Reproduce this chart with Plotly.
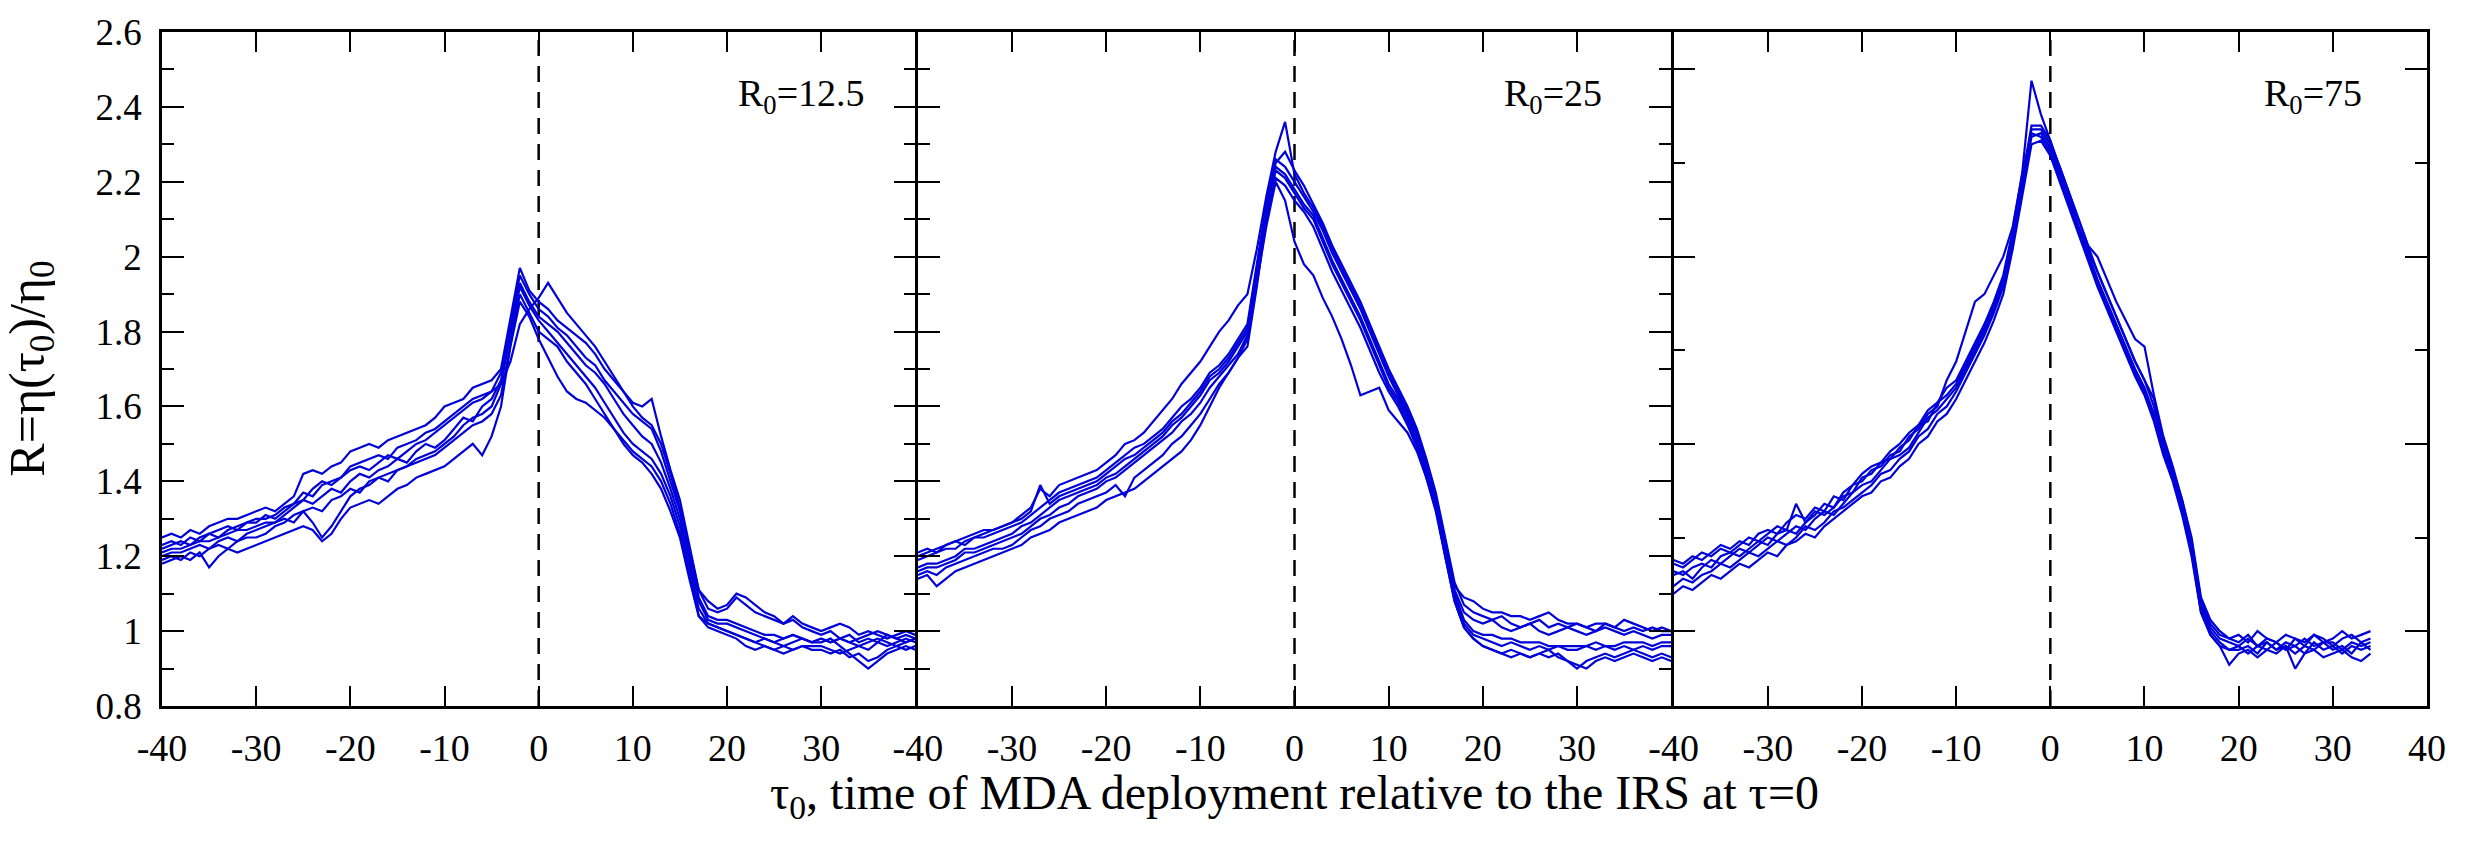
import plotly.graph_objects as go

# Time of MDA deployment relative to IRS (tau_0)
TAU_A = list(range(-40, 41))   # runs for R0 = 12.5 and R0 = 25
TAU_B = list(range(-40, 35))   # runs for R0 = 75

# Ratio R = eta(tau_0)/eta_0 for individual stochastic runs, R0 = 12.5
R0_12_5_RUNS = [
    [1.25, 1.26, 1.25, 1.27, 1.26, 1.28, 1.29, 1.30, 1.30, 1.31,
     1.32, 1.33, 1.32, 1.34, 1.36, 1.42, 1.43, 1.42, 1.44, 1.45,
     1.48, 1.49, 1.50, 1.49, 1.51, 1.52, 1.53, 1.54, 1.55, 1.57,
     1.60, 1.61, 1.62, 1.65, 1.66, 1.67, 1.70, 1.84, 1.97, 1.91,
     1.88, 1.86, 1.83, 1.81, 1.79, 1.77, 1.74, 1.70, 1.67, 1.64,
     1.61, 1.60, 1.62, 1.52, 1.43, 1.35, 1.23, 1.11, 1.06, 1.05,
     1.06, 1.09, 1.07, 1.05, 1.04, 1.03, 1.02, 1.04, 1.02, 1.01,
     1.00, 1.01, 1.02, 1.01, 0.99, 1.00, 0.99, 0.98, 0.99, 1.00, 0.99],
    [1.18, 1.19, 1.20, 1.19, 1.21, 1.17, 1.20, 1.22, 1.21, 1.22,
     1.23, 1.24, 1.25, 1.26, 1.27, 1.28, 1.27, 1.24, 1.26, 1.30,
     1.33, 1.34, 1.35, 1.34, 1.36, 1.38, 1.39, 1.41, 1.42, 1.43,
     1.44, 1.46, 1.48, 1.50, 1.47, 1.52, 1.60, 1.76, 1.88, 1.84,
     1.78, 1.73, 1.68, 1.64, 1.62, 1.61, 1.59, 1.57, 1.54, 1.51,
     1.48, 1.46, 1.44, 1.40, 1.34, 1.26, 1.15, 1.04, 1.01, 1.00,
     0.99, 0.98, 0.96, 0.95, 0.96, 0.95, 0.94, 0.95, 0.96, 0.95,
     0.95, 0.94, 0.95, 0.93, 0.94, 0.92, 0.93, 0.95, 0.96, 0.95, 0.96],
    [1.23, 1.24, 1.23, 1.25, 1.24, 1.26, 1.27, 1.28, 1.27, 1.29,
     1.30, 1.30, 1.31, 1.33, 1.34, 1.37, 1.36, 1.39, 1.40, 1.41,
     1.44, 1.45, 1.46, 1.47, 1.46, 1.49, 1.50, 1.51, 1.53, 1.54,
     1.56, 1.58, 1.60, 1.62, 1.63, 1.64, 1.69, 1.82, 1.95, 1.90,
     1.86, 1.84, 1.81, 1.79, 1.76, 1.73, 1.71, 1.67, 1.64, 1.61,
     1.58, 1.56, 1.54, 1.48, 1.40, 1.32, 1.21, 1.09, 1.04, 1.03,
     1.03, 1.02, 1.01, 1.00, 0.99, 0.99, 0.98, 0.99, 0.98, 0.97,
     0.98, 0.97, 0.98, 0.97, 0.96, 0.97, 0.98, 0.97, 0.96, 0.97, 0.98],
    [1.20, 1.21, 1.21, 1.22, 1.23, 1.22, 1.24, 1.25, 1.24, 1.26,
     1.27, 1.28, 1.29, 1.30, 1.29, 1.32, 1.29, 1.25, 1.28, 1.32,
     1.36, 1.38, 1.39, 1.41, 1.42, 1.43, 1.44, 1.46, 1.47, 1.48,
     1.50, 1.52, 1.55, 1.57, 1.58, 1.60, 1.66, 1.79, 1.92, 1.87,
     1.83, 1.80, 1.77, 1.74, 1.71, 1.68, 1.65, 1.61, 1.57, 1.53,
     1.50, 1.48, 1.46, 1.42, 1.36, 1.28, 1.17, 1.06, 1.02, 1.01,
     1.00, 0.99, 0.98, 0.97, 0.96, 0.95, 0.96, 0.95, 0.96, 0.96,
     0.96, 0.95, 0.94, 0.95, 0.96, 0.95, 0.97, 0.96, 0.97, 0.98, 0.97],
    [1.22, 1.23, 1.24, 1.23, 1.25, 1.26, 1.25, 1.27, 1.28, 1.29,
     1.29, 1.31, 1.30, 1.32, 1.34, 1.35, 1.38, 1.40, 1.39, 1.41,
     1.43, 1.44, 1.43, 1.45, 1.47, 1.46, 1.48, 1.50, 1.51, 1.53,
     1.55, 1.57, 1.59, 1.61, 1.62, 1.64, 1.66, 1.72, 1.82, 1.86,
     1.89, 1.93, 1.89, 1.85, 1.82, 1.79, 1.76, 1.72, 1.68, 1.64,
     1.60, 1.57, 1.55, 1.50, 1.42, 1.33, 1.22, 1.11, 1.08, 1.06,
     1.07, 1.10, 1.09, 1.07, 1.05, 1.04, 1.02, 1.03, 1.01, 1.00,
     0.99, 1.00, 0.98, 0.97, 0.98, 0.99, 1.00, 0.99, 0.98, 0.97, 0.98],
    [1.19, 1.20, 1.19, 1.21, 1.20, 1.22, 1.23, 1.22, 1.24, 1.25,
     1.25, 1.26, 1.28, 1.29, 1.31, 1.32, 1.33, 1.32, 1.35, 1.36,
     1.38, 1.37, 1.40, 1.41, 1.40, 1.43, 1.44, 1.45, 1.46, 1.47,
     1.49, 1.51, 1.53, 1.55, 1.56, 1.58, 1.63, 1.77, 1.90, 1.85,
     1.80, 1.78, 1.76, 1.72, 1.69, 1.66, 1.62, 1.58, 1.54, 1.50,
     1.47, 1.45, 1.42, 1.38, 1.32, 1.25, 1.14, 1.04, 1.02, 1.01,
     1.00, 0.99, 0.98, 0.97, 0.98, 0.97, 0.96, 0.97, 0.98, 0.97,
     0.97, 0.98, 0.96, 0.94, 0.92, 0.90, 0.92, 0.94, 0.95, 0.96, 0.95],
    [1.21, 1.22, 1.22, 1.23, 1.24, 1.24, 1.25, 1.26, 1.27, 1.27,
     1.28, 1.29, 1.29, 1.31, 1.33, 1.35, 1.34, 1.36, 1.38, 1.37,
     1.40, 1.42, 1.41, 1.43, 1.44, 1.46, 1.45, 1.48, 1.50, 1.49,
     1.51, 1.54, 1.57, 1.56, 1.60, 1.62, 1.67, 1.80, 1.93, 1.88,
     1.84, 1.82, 1.80, 1.77, 1.74, 1.71, 1.69, 1.66, 1.62, 1.58,
     1.55, 1.52, 1.50, 1.45, 1.38, 1.30, 1.19, 1.08, 1.03, 1.02,
     1.02, 1.01, 1.00, 0.99, 0.98, 0.97, 0.98, 0.99, 0.98, 0.97,
     0.98, 0.97, 0.98, 0.99, 0.97, 0.98, 0.97, 0.99, 0.98, 0.99, 0.98],
]

# R0 = 25
R0_25_RUNS = [
    [1.20, 1.21, 1.22, 1.23, 1.24, 1.25, 1.26, 1.27, 1.27, 1.28,
     1.29, 1.31, 1.33, 1.38, 1.36, 1.39, 1.40, 1.41, 1.42, 1.43,
     1.45, 1.47, 1.50, 1.51, 1.53, 1.56, 1.59, 1.62, 1.66, 1.69,
     1.72, 1.76, 1.80, 1.83, 1.87, 1.90, 2.02, 2.16, 2.28, 2.36,
     2.22, 2.17, 2.13, 2.08, 2.02, 1.97, 1.92, 1.87, 1.81, 1.75,
     1.69, 1.64, 1.59, 1.53, 1.45, 1.36, 1.24, 1.12, 1.09, 1.08,
     1.06, 1.05, 1.05, 1.04, 1.04, 1.03, 1.04, 1.05, 1.03, 1.02,
     1.02, 1.01, 1.02, 1.02, 1.01, 1.03, 1.02, 1.01, 1.00, 1.01, 1.00],
    [1.14, 1.15, 1.12, 1.14, 1.16, 1.17, 1.18, 1.19, 1.20, 1.21,
     1.22, 1.23, 1.25, 1.26, 1.27, 1.29, 1.30, 1.31, 1.32, 1.33,
     1.35, 1.36, 1.37, 1.38, 1.40, 1.42, 1.44, 1.46, 1.48, 1.51,
     1.55, 1.60, 1.65, 1.69, 1.73, 1.78, 1.93, 2.08, 2.20, 2.15,
     2.04, 1.98, 1.95, 1.89, 1.84, 1.78, 1.71, 1.63, 1.64, 1.65,
     1.59, 1.56, 1.53, 1.48, 1.41, 1.32, 1.20, 1.08, 1.01, 0.98,
     0.96, 0.95, 0.94, 0.93, 0.94, 0.93, 0.94, 0.93, 0.94, 0.92,
     0.91, 0.90, 0.92, 0.93, 0.92, 0.93, 0.94, 0.93, 0.92, 0.93, 0.92],
    [1.19, 1.20, 1.21, 1.22, 1.22, 1.24, 1.25, 1.25, 1.26, 1.27,
     1.28, 1.29, 1.31, 1.33, 1.35, 1.37, 1.38, 1.39, 1.40, 1.41,
     1.43, 1.45, 1.47, 1.49, 1.50, 1.52, 1.54, 1.57, 1.60, 1.62,
     1.65, 1.69, 1.71, 1.74, 1.78, 1.82, 1.98, 2.14, 2.26, 2.24,
     2.20, 2.16, 2.12, 2.07, 2.01, 1.96, 1.91, 1.86, 1.80, 1.74,
     1.68, 1.63, 1.58, 1.52, 1.44, 1.35, 1.23, 1.11, 1.05, 1.03,
     1.02, 1.03, 1.01, 1.00, 1.01, 1.02, 1.00, 0.99, 1.00, 1.01,
     1.00, 0.99, 1.00, 1.01, 1.00, 0.99, 1.00, 0.99, 0.98, 0.99, 0.99],
    [1.17, 1.18, 1.18, 1.19, 1.20, 1.22, 1.22, 1.23, 1.24, 1.25,
     1.26, 1.28, 1.29, 1.31, 1.33, 1.35, 1.36, 1.37, 1.38, 1.39,
     1.41, 1.42, 1.44, 1.46, 1.48, 1.50, 1.52, 1.55, 1.57, 1.60,
     1.63, 1.67, 1.69, 1.72, 1.76, 1.80, 1.96, 2.12, 2.24, 2.22,
     2.18, 2.14, 2.11, 2.05, 1.99, 1.94, 1.89, 1.84, 1.78, 1.72,
     1.66, 1.62, 1.57, 1.51, 1.43, 1.34, 1.22, 1.10, 1.03, 1.00,
     0.99, 0.99, 0.98, 0.98, 0.97, 0.97, 0.97, 0.96, 0.96, 0.96,
     0.96, 0.96, 0.97, 0.96, 0.96, 0.97, 0.97, 0.97, 0.96, 0.97, 0.97],
    [1.15, 1.16, 1.15, 1.17, 1.18, 1.19, 1.20, 1.21, 1.22, 1.22,
     1.23, 1.25, 1.27, 1.28, 1.30, 1.31, 1.32, 1.34, 1.35, 1.36,
     1.37, 1.39, 1.36, 1.41, 1.43, 1.45, 1.47, 1.50, 1.52, 1.55,
     1.58, 1.62, 1.66, 1.69, 1.73, 1.76, 1.92, 2.10, 2.21, 2.19,
     2.15, 2.12, 2.08, 2.02, 1.96, 1.91, 1.86, 1.81, 1.75, 1.69,
     1.64, 1.60, 1.55, 1.49, 1.41, 1.33, 1.20, 1.08, 1.01, 0.98,
     0.96, 0.95, 0.94, 0.95, 0.94, 0.93, 0.94, 0.95, 0.93, 0.92,
     0.90, 0.92, 0.93, 0.94, 0.93, 0.94, 0.95, 0.94, 0.93, 0.94, 0.93],
    [1.21, 1.22, 1.21, 1.23, 1.24, 1.23, 1.25, 1.26, 1.27, 1.28,
     1.29, 1.30, 1.32, 1.39, 1.34, 1.36, 1.37, 1.38, 1.39, 1.40,
     1.42, 1.44, 1.46, 1.47, 1.49, 1.51, 1.53, 1.56, 1.58, 1.61,
     1.64, 1.68, 1.70, 1.73, 1.77, 1.81, 1.97, 2.13, 2.25, 2.28,
     2.23, 2.19, 2.14, 2.09, 2.03, 1.98, 1.93, 1.88, 1.82, 1.76,
     1.70, 1.65, 1.60, 1.54, 1.46, 1.37, 1.25, 1.13, 1.07, 1.05,
     1.04, 1.03, 1.04, 1.02, 1.01, 1.02, 1.03, 1.01, 1.02, 1.01,
     1.02, 1.01, 1.00, 1.02, 1.01, 1.00, 1.01, 1.00, 1.01, 1.00, 1.00],
    [1.16, 1.17, 1.17, 1.18, 1.19, 1.21, 1.21, 1.22, 1.23, 1.24,
     1.25, 1.26, 1.28, 1.30, 1.31, 1.33, 1.34, 1.36, 1.37, 1.38,
     1.40, 1.41, 1.43, 1.45, 1.47, 1.49, 1.51, 1.53, 1.56, 1.58,
     1.61, 1.65, 1.68, 1.71, 1.74, 1.79, 1.95, 2.11, 2.23, 2.21,
     2.17, 2.13, 2.10, 2.04, 1.98, 1.93, 1.88, 1.83, 1.77, 1.71,
     1.65, 1.61, 1.56, 1.50, 1.42, 1.33, 1.21, 1.09, 1.02, 0.99,
     0.98, 0.97, 0.96, 0.97, 0.96, 0.95, 0.96, 0.95, 0.96, 0.95,
     0.95, 0.96, 0.95, 0.96, 0.95, 0.96, 0.95, 0.96, 0.95, 0.96, 0.96],
]

# R0 = 75
R0_75_RUNS = [
    [1.18, 1.17, 1.19, 1.21, 1.20, 1.22, 1.21, 1.23, 1.25, 1.24,
     1.26, 1.28, 1.27, 1.34, 1.29, 1.31, 1.34, 1.33, 1.37, 1.39,
     1.40, 1.43, 1.44, 1.47, 1.48, 1.52, 1.54, 1.58, 1.60, 1.67,
     1.72, 1.80, 1.88, 1.90, 1.95, 2.00, 2.08, 2.22, 2.47, 2.38,
     2.31, 2.23, 2.16, 2.08, 2.02, 1.96, 1.90, 1.84, 1.78, 1.72,
     1.67, 1.62, 1.51, 1.43, 1.35, 1.24, 1.08, 1.02, 0.99, 0.98,
     0.99, 0.97, 1.00, 0.98, 0.97, 0.99, 0.98, 0.96, 0.99, 0.97,
     0.98, 1.00, 0.98, 0.99, 1.00],
    [1.15, 1.16, 1.14, 1.17, 1.19, 1.18, 1.20, 1.22, 1.21, 1.23,
     1.25, 1.24, 1.26, 1.28, 1.27, 1.30, 1.32, 1.31, 1.34, 1.37,
     1.39, 1.40, 1.43, 1.46, 1.47, 1.49, 1.53, 1.57, 1.59, 1.62,
     1.65, 1.70, 1.75, 1.80, 1.86, 1.93, 2.05, 2.20, 2.34, 2.34,
     2.30, 2.24, 2.17, 2.10, 2.03, 2.00, 1.94, 1.88, 1.83, 1.78,
     1.76, 1.63, 1.52, 1.44, 1.35, 1.25, 1.09, 1.03, 1.00, 0.98,
     0.97, 0.99, 0.96, 0.98, 0.97, 0.95, 0.98, 0.97, 0.99, 0.98,
     0.96, 0.98, 0.99, 0.97, 0.98],
    [1.12, 1.14, 1.13, 1.15, 1.16, 1.18, 1.17, 1.19, 1.21, 1.20,
     1.22, 1.24, 1.23, 1.25, 1.28, 1.27, 1.29, 1.32, 1.33, 1.35,
     1.37, 1.39, 1.42, 1.43, 1.46, 1.48, 1.52, 1.54, 1.58, 1.60,
     1.64, 1.69, 1.74, 1.79, 1.85, 1.92, 2.04, 2.18, 2.32, 2.33,
     2.29, 2.22, 2.15, 2.08, 2.01, 1.94, 1.88, 1.82, 1.76, 1.70,
     1.65, 1.58, 1.49, 1.42, 1.33, 1.22, 1.06, 1.00, 0.97, 0.95,
     0.95, 0.96, 0.94, 0.97, 0.95, 0.96, 0.94, 0.96, 0.95, 0.97,
     0.95, 0.96, 0.94, 0.97, 0.95],
    [1.10, 1.12, 1.11, 1.13, 1.15, 1.14, 1.16, 1.18, 1.17, 1.19,
     1.21, 1.20, 1.23, 1.24, 1.26, 1.25, 1.28, 1.30, 1.32, 1.34,
     1.36, 1.37, 1.40, 1.41, 1.44, 1.46, 1.50, 1.52, 1.56, 1.58,
     1.62, 1.67, 1.72, 1.77, 1.83, 1.90, 2.02, 2.16, 2.30, 2.31,
     2.27, 2.20, 2.13, 2.06, 1.99, 1.92, 1.86, 1.80, 1.74, 1.68,
     1.63, 1.56, 1.47, 1.40, 1.31, 1.20, 1.05, 0.99, 0.96, 0.91,
     0.94, 0.95, 0.93, 0.95, 0.94, 0.96, 0.90, 0.94, 0.95, 0.93,
     0.94, 0.95, 0.93, 0.92, 0.94],
    [1.16, 1.15, 1.17, 1.18, 1.17, 1.20, 1.21, 1.20, 1.22, 1.24,
     1.23, 1.26, 1.27, 1.26, 1.29, 1.32, 1.31, 1.33, 1.36, 1.37,
     1.41, 1.42, 1.45, 1.46, 1.49, 1.51, 1.55, 1.56, 1.61, 1.63,
     1.66, 1.71, 1.76, 1.81, 1.87, 1.94, 2.06, 2.21, 2.35, 2.35,
     2.31, 2.24, 2.17, 2.10, 2.03, 1.96, 1.90, 1.84, 1.78, 1.72,
     1.67, 1.60, 1.50, 1.43, 1.34, 1.23, 1.07, 1.01, 0.98, 0.97,
     0.96, 0.98, 0.96, 0.97, 0.95, 0.97, 0.96, 0.98, 0.96, 0.97,
     0.97, 0.95, 0.97, 0.96, 0.97],
    [1.19, 1.18, 1.20, 1.19, 1.21, 1.23, 1.22, 1.24, 1.23, 1.26,
     1.27, 1.26, 1.29, 1.31, 1.30, 1.33, 1.32, 1.36, 1.35, 1.39,
     1.42, 1.44, 1.45, 1.48, 1.50, 1.53, 1.55, 1.59, 1.61, 1.65,
     1.67, 1.72, 1.77, 1.82, 1.88, 1.95, 2.07, 2.22, 2.33, 2.32,
     2.28, 2.21, 2.14, 2.07, 2.00, 1.93, 1.87, 1.81, 1.75, 1.69,
     1.64, 1.57, 1.48, 1.41, 1.32, 1.21, 1.05, 0.99, 0.96, 0.95,
     0.96, 0.94, 0.96, 0.95, 0.97, 0.95, 0.96, 0.94, 0.97, 0.95,
     0.96, 0.94, 0.96, 0.95, 0.96],
]

PANELS = [
    ("R<sub>0</sub>=12.5", TAU_A, R0_12_5_RUNS, 21.0),
    ("R<sub>0</sub>=25", TAU_A, R0_25_RUNS, 22.0),
    ("R<sub>0</sub>=75", TAU_B, R0_75_RUNS, 22.5),
]
X_TICKS_INNER = [-40, -30, -20, -10, 0, 10, 20, 30]
X_TICKS_LAST = [-40, -30, -20, -10, 0, 10, 20, 30, 40]

FONT = "Liberation Serif"
LINE_BLUE = "#0000d8"
FRAME_W = 2.5

fig = go.Figure()

for i, (label, tau, runs, label_x) in enumerate(PANELS):
    suffix = "" if i == 0 else str(i + 1)
    for run in runs:
        fig.add_trace(go.Scatter(
            x=tau, y=run, mode="lines",
            line=dict(color=LINE_BLUE, width=2.2),
            xaxis="x" + suffix, yaxis="y" + suffix,
            showlegend=False, hoverinfo="skip",
        ))
    # dashed marker of the IRS time, tau = 0
    fig.add_shape(
        type="line", x0=0, x1=0, y0=0, y1=1,
        xref="x" + suffix, yref="y" + suffix + " domain",
        line=dict(color="black", width=2.5, dash="16px,10px"),
        layer="below",
    )
    fig.add_annotation(
        x=label_x, y=2.43, xref="x" + suffix, yref="y" + suffix,
        text=label, showarrow=False, xanchor="left", yanchor="middle",
        font=dict(family=FONT, size=38, color="black"),
    )

axis_common = dict(
    showline=True, linecolor="black", linewidth=FRAME_W, mirror="ticks",
    ticks="inside", tickcolor="black", tickwidth=2,
    showgrid=False, zeroline=False,
    tickfont=dict(family=FONT, size=38, color="black"),
)

# panels sit edge to edge; a gap of one frame width lets the shared
# frame lines of neighbouring panels fall on the same pixels
plot_w = 2471 - 162 - 44
gap = FRAME_W / plot_w
panel_w = (1 - 2 * gap) / 3
domains = [[k * (panel_w + gap), k * (panel_w + gap) + panel_w] for k in range(3)]

for i in range(3):
    suffix = "" if i == 0 else str(i + 1)
    vals = X_TICKS_LAST if i == 2 else X_TICKS_INNER
    fig.update_layout(**{
        "xaxis" + suffix: dict(
            axis_common, domain=domains[i], range=[-40, 40],
            anchor="y" + suffix, ticklen=20,
            tickvals=vals, ticktext=[str(v) for v in vals],
            ticklabelstandoff=7,
        ),
    })

minor_fine = dict(dtick=0.1, tick0=0.8, ticklen=12, ticks="inside",
                  tickcolor="black", tickwidth=2)
# a hair beyond 2.6 so the top tick label is always kept
y_shared = dict(axis_common, range=[0.8, 2.6001])
fig.update_layout(
    yaxis=dict(y_shared, anchor="x", tick0=0.8, dtick=0.2,
               ticklen=22, minor=minor_fine, ticklabelstandoff=10,
               tickfont=dict(family=FONT, size=37, color="black")),
    yaxis2=dict(y_shared, anchor="x2", tick0=0.8, dtick=0.2, ticklen=22,
                showticklabels=False, minor=minor_fine),
    yaxis3=dict(y_shared, anchor="x3", tick0=0.5, dtick=0.5, ticklen=22,
                showticklabels=False,
                minor=dict(dtick=0.25, tick0=0.25, ticklen=12, ticks="inside",
                           tickcolor="black", tickwidth=2)),
)

fig.add_annotation(
    x=0.5, y=-0.133, xref="paper", yref="paper",
    text="τ<sub>0</sub>, time of MDA deployment relative to the IRS at τ=0",
    showarrow=False, xanchor="center", yanchor="middle",
    font=dict(family=FONT, size=48, color="black"),
)
fig.add_annotation(
    x=-0.058, y=0.5, xref="paper", yref="paper",
    text="R=η(τ<sub>0</sub>)/η<sub>0</sub>", textangle=-90,
    showarrow=False, xanchor="center", yanchor="middle",
    font=dict(family=FONT, size=50, color="black"),
)

fig.update_layout(
    width=2471, height=848, autosize=False,
    margin=dict(l=162, r=44, t=22, b=142),
    plot_bgcolor="white", paper_bgcolor="white",
)

fig.write_html("out.html")
